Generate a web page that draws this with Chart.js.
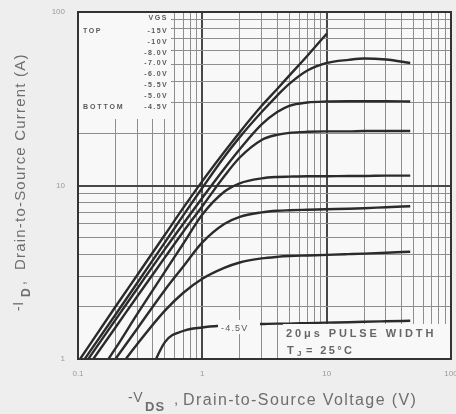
<!DOCTYPE html>
<html>
<head>
<meta charset="utf-8">
<script src="https://cdn.jsdelivr.net/npm/chart.js@4.4.0/dist/chart.umd.min.js"></script>
<style>
  html, body { margin: 0; padding: 0; background: #eeeeee; }
  canvas { display: block; }
</style>
</head>
<body>
<canvas id="outputChart" width="456" height="414"></canvas>
<script>
// drain-to-source voltage (V), shared by every curve
const vds = [0.1, 0.2, 0.3, 0.5, 0.7, 1, 1.5, 2, 3, 4, 5, 7, 10, 15, 20, 30, 47];

// drain current (A) for each gate voltage, null where the curve is not drawn
const id15 = [0.96, 2.0, 3.05, 5.2, 7.4, 10.6, 15.6, 20.3, 28.8, 36, 43, 56, 75, null, null, null, null];
const id10 = [0.88, 1.8, 2.75, 4.7, 6.7, 9.7, 14.6, 19, 26.5, 33, 38.5, 46, 50.8, 53, 54, 53.2, 50.8];
const id8 = [0.82, 1.68, 2.55, 4.3, 6.0, 8.5, 12.5, 16.2, 22.5, 26.5, 28.8, 30.1, 30.5, 30.6, 30.6, 30.6, 30.5];
const id7 = [0.75, 1.52, 2.3, 3.85, 5.4, 7.6, 11.3, 14.5, 18.3, 19.6, 20.1, 20.4, 20.5, 20.5, 20.6, 20.6, 20.6];
const id6 = [0.55, 1.15, 1.82, 3.19, 4.6, 6.8, 9.2, 10.3, 11.0, 11.2, 11.25, 11.3, 11.3, 11.35, 11.35, 11.4, 11.4];
const id55 = [0.5, 1.0, 1.5, 2.5, 3.4, 4.7, 6.0, 6.6, 7.0, 7.15, 7.2, 7.25, 7.3, 7.35, 7.4, 7.5, 7.6];
const id5 = [0.41, 0.83, 1.22, 1.9, 2.4, 2.9, 3.35, 3.6, 3.8, 3.88, 3.92, 3.95, 3.98, 4.02, 4.05, 4.1, 4.15];
const id45 = [null, null, 0.55, 1.25, 1.45, 1.52, 1.56, 1.58, 1.59, 1.6, 1.6, 1.61, 1.62, 1.63, 1.64, 1.65, 1.66];

const gateLabels = ["-15V", "-10V", "-8.0V", "-7.0V", "-6.0V", "-5.5V", "-5.0V", "-4.5V"];

// axis decades and their printed labels
const xDecades = [0.1, 1, 10, 100];
const xTickLabels = ["0.1", "1", "10", "100"];
const yDecades = [1, 10, 100];
const yTickLabels = ["1", "10", "100"];

// log grid: 1..9 steps inside each decade
function logGrid(decades) {
  const out = [];
  for (let d = 0; d < decades.length - 1; d++) {
    for (let m = 1; m < 10; m++) out.push(+(decades[d] * m).toPrecision(6));
  }
  out.push(decades[decades.length - 1]);
  return out;
}
const xGrid = logGrid(xDecades);
const yGrid = logGrid(yDecades);

function isDecade(v, decades) {
  return decades.findIndex(d => Math.abs(v - d) < d * 1e-6);
}

const curves = [id15, id10, id8, id7, id6, id55, id5, id45];

const datasets = curves.map((ys, i) => ({
  label: gateLabels[i],
  data: vds.map((v, j) => ({ x: v, y: ys[j] })),
  borderColor: "#2b2b2b",
  borderWidth: 2.4,
  pointRadius: 0,
  fill: false,
  spanGaps: false,
  cubicInterpolationMode: "monotone"
}));

const TEXT = "#6e6e6e";
const SANS = "'Liberation Sans', Arial, sans-serif";

// text drawn with optional letter spacing
function put(ctx, str, x, y, font, spacing, align) {
  ctx.font = font;
  ctx.letterSpacing = (spacing || 0) + "px";
  ctx.textAlign = align || "left";
  ctx.fillText(str, x, y);
  ctx.letterSpacing = "0px";
}

const plotDecor = {
  id: "plotDecor",
  beforeDraw(chart) {
    const { ctx, chartArea: a } = chart;
    ctx.save();
    ctx.fillStyle = "#f8f8f8";
    ctx.fillRect(a.left, a.top, a.right - a.left, a.bottom - a.top);
    ctx.restore();
  },
  afterDatasetsDraw(chart) {
    const { ctx, chartArea: a } = chart;
    ctx.save();
    ctx.textBaseline = "alphabetic";

    // gate voltage key, top-left
    ctx.fillStyle = "#f8f8f8";
    ctx.fillRect(a.left + 1, a.top + 1, 170 - a.left, 118 - a.top);
    ctx.fillStyle = "#5a5a5a";
    const kFont = "bold 7px " + SANS;
    put(ctx, "VGS", 168, 20, kFont, 1.6, "right");
    put(ctx, "TOP", 83, 33, kFont, 1.6, "left");
    put(ctx, "BOTTOM", 83, 109, kFont, 1.9, "left");
    gateLabels.forEach((t, i) => {
      put(ctx, t, 168, 33 + i * 10.8, kFont, 1.4, "right");
    });

    // inline label on the lowest curve
    ctx.fillStyle = "#f8f8f8";
    ctx.fillRect(218, 320, 42, 14);
    ctx.fillStyle = "#5a5a5a";
    put(ctx, gateLabels[7], 221, 331, "9px " + SANS, 1.2, "left");

    // test conditions
    ctx.fillStyle = "#f8f8f8";
    ctx.fillRect(283, 324, a.right - 284, a.bottom - 325);
    ctx.fillStyle = "#666666";
    put(ctx, "20\u03bcs PULSE WIDTH", 286, 337, "bold 11px " + SANS, 2.9, "left");
    put(ctx, "T", 287, 354, "bold 11px " + SANS, 2.4, "left");
    put(ctx, "J", 297, 356, "bold 8px " + SANS, 1, "left");
    put(ctx, "= 25\u00b0C", 306, 354, "bold 11px " + SANS, 2.4, "left");

    // frame
    ctx.strokeStyle = "#333333";
    ctx.lineWidth = 2;
    ctx.strokeRect(a.left, a.top, a.right - a.left, a.bottom - a.top);
    ctx.restore();
  },
  afterDraw(chart) {
    const { ctx } = chart;
    ctx.save();
    ctx.fillStyle = TEXT;
    ctx.textBaseline = "alphabetic";

    // x title: -VDS , Drain-to-Source Voltage (V)
    put(ctx, "-V", 128, 402, "14px " + SANS, 0.5, "left");
    put(ctx, "DS", 145, 411, "bold 13px " + SANS, 1, "left");
    put(ctx, ",", 174, 404, "15px " + SANS, 0, "left");
    put(ctx, "Drain-to-Source Voltage (V)", 183, 405, "16px " + SANS, 1.4, "left");

    // y title, rotated: -ID , Drain-to-Source Current (A)
    ctx.translate(25, 0);
    ctx.rotate(-Math.PI / 2);
    put(ctx, "-I", -311, -2, "14px " + SANS, 0.5, "left");
    put(ctx, "D", -297, 5, "bold 12px " + SANS, 0.5, "left");
    put(ctx, ",", -285, 0, "14px " + SANS, 0, "left");
    put(ctx, "Drain-to-Source Current (A)", -270, 0, "15px " + SANS, 1.2, "left");
    ctx.restore();
  }
};

const gridColor = decades => c =>
  isDecade(c.tick.value, decades) >= 0 ? "#474747" : "#8e8e8e";
const gridWidth = decades => c =>
  isDecade(c.tick.value, decades) >= 0 ? 2 : 1;

new Chart(document.getElementById("outputChart"), {
  type: "line",
  data: { datasets },
  plugins: [plotDecor],
  options: {
    responsive: false,
    animation: false,
    devicePixelRatio: 1,
    layout: { padding: { top: 12, right: 5, left: 0, bottom: 0 } },
    plugins: { legend: { display: false }, tooltip: { enabled: false } },
    scales: {
      x: {
        type: "logarithmic",
        min: 0.1,
        max: 100,
        afterBuildTicks: s => { s.ticks = xGrid.map(v => ({ value: v })); },
        afterFit: s => { s.height = 55; s.paddingLeft = 0; s.paddingRight = 0; },
        ticks: {
          autoSkip: false,
          maxRotation: 0,
          padding: 10,
          color: "#9a9a9a",
          font: { family: SANS, size: 8 },
          callback: v => {
            const k = isDecade(v, xDecades);
            return k >= 0 ? xTickLabels[k] : "";
          }
        },
        grid: { drawTicks: false, color: gridColor(xDecades), lineWidth: gridWidth(xDecades) },
        border: { display: false }
      },
      y: {
        type: "logarithmic",
        min: 1,
        max: 100,
        afterBuildTicks: s => { s.ticks = yGrid.map(v => ({ value: v })); },
        afterFit: s => { s.width = 78; s.paddingTop = 0; s.paddingBottom = 0; },
        ticks: {
          autoSkip: false,
          padding: 13,
          color: "#9a9a9a",
          font: { family: SANS, size: 8 },
          callback: v => {
            const k = isDecade(v, yDecades);
            return k >= 0 ? yTickLabels[k] : "";
          }
        },
        grid: { drawTicks: false, color: gridColor(yDecades), lineWidth: gridWidth(yDecades) },
        border: { display: false }
      }
    }
  }
});
</script>
</body>
</html>
